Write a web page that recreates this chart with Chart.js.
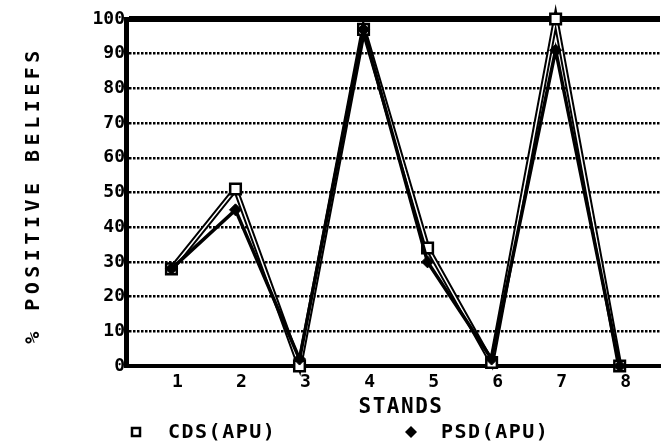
<!DOCTYPE html>
<html>
<head>
<meta charset="utf-8">
<script src="https://cdn.jsdelivr.net/npm/chart.js@4"></script>
<style>
  html, body { margin: 0; padding: 0; background: #fff; }
  #wrap { width: 670px; height: 446px; }
</style>
</head>
<body>
<div id="wrap"><canvas id="standsChart" width="670" height="446"></canvas></div>
<script>
/* valores */
const stands = [1, 2, 3, 4, 5, 6, 7, 8];
const cdsApu = [28, 51, 0, 97, 34, 1, 100, 0];
const psdApu = [28, 45, 2, 97, 30, 2, 91, 0];
const yTicks = [0, 10, 20, 30, 40, 50, 60, 70, 80, 90, 100];
const seriesNames = ["CDS(APU)", "PSD(APU)"];
const xTitle = "STANDS";
const yTitle = "% POSITIVE BELIEFS";

const MONO = "'DejaVu Sans Mono', 'Liberation Mono', monospace";

function points(values) {
  return stands.map((s, i) => ({ x: s, y: values[i] }));
}

/* títulos e legenda desenhados à mão (fonte bitmap espaçada) */
const textOverlay = {
  id: "textOverlay",
  afterDraw(chart) {
    const ctx = chart.ctx;
    ctx.save();
    ctx.fillStyle = "#000";
    ctx.strokeStyle = "#000";
    ctx.textBaseline = "middle";

    // título do eixo y
    ctx.save();
    ctx.font = "bold 20px " + MONO;
    ctx.letterSpacing = "4.5px";
    ctx.textAlign = "center";
    ctx.translate(34, 195);
    ctx.rotate(-Math.PI / 2);
    ctx.fillText(yTitle, 0, 0);
    ctx.restore();

    // título do eixo x
    ctx.font = "bold 21px " + MONO;
    ctx.letterSpacing = "1.5px";
    ctx.textAlign = "center";
    ctx.fillText(xTitle, 401, 408);

    // legenda
    ctx.font = "bold 20px " + MONO;
    ctx.letterSpacing = "1.5px";
    ctx.textAlign = "left";
    ctx.lineWidth = 2.5;
    ctx.strokeRect(132, 428, 8, 8);
    ctx.fillText(seriesNames[0], 168, 433);

    ctx.beginPath();
    ctx.moveTo(411, 426);
    ctx.lineTo(417, 432);
    ctx.lineTo(411, 438);
    ctx.lineTo(405, 432);
    ctx.closePath();
    ctx.fill();
    ctx.fillText(seriesNames[1], 441, 433);
    ctx.restore();
  },
};

const ctx = document.getElementById("standsChart").getContext("2d");
new Chart(ctx, {
  type: "line",
  data: {
    datasets: [
      {
        label: seriesNames[0],
        data: points(cdsApu),
        borderColor: "#000",
        borderWidth: 5.5,
        pointRadius: 0,
        clip: false,
        order: 3,
      },
      {
        label: seriesNames[0] + " inner",
        data: points(cdsApu),
        borderColor: "#fff",
        borderWidth: 1.5,
        pointStyle: "rect",
        pointRadius: 7.5,
        pointBackgroundColor: "#fff",
        pointBorderColor: "#000",
        pointBorderWidth: 2.5,
        clip: false,
        order: 2,
      },
      {
        label: seriesNames[1],
        data: points(psdApu),
        borderColor: "#000",
        borderWidth: 3.5,
        pointStyle: "rectRot",
        pointRadius: 6,
        pointBackgroundColor: "#000",
        pointBorderColor: "#000",
        pointBorderWidth: 1,
        clip: false,
        order: 1,
      },
    ],
  },
  options: {
    responsive: false,
    animation: false,
    layout: { padding: { top: 19, right: 0, left: 0, bottom: 0 } },
    plugins: {
      legend: { display: false },
      title: { display: false },
      tooltip: { enabled: false },
    },
    scales: {
      x: {
        type: "linear",
        min: 0.29,
        max: 8.63,
        afterBuildTicks: (axis) => {
          axis.ticks = stands.map((v) => ({ value: v }));
        },
        afterFit: (axis) => {
          axis.height = 80;
        },
        grid: { display: false, drawTicks: false },
        border: { display: true, color: "#000", width: 4 },
        ticks: {
          color: "#000",
          padding: 6,
          labelOffset: 6,
          maxRotation: 0,
          font: { family: MONO, size: 18, weight: "bold" },
        },
      },
      y: {
        min: 0,
        max: 100,
        afterBuildTicks: (axis) => {
          axis.ticks = yTicks.map((v) => ({ value: v }));
        },
        afterFit: (axis) => {
          axis.width = 126;
        },
        grid: {
          drawTicks: false,
          color: (c) => (c.tick && c.tick.value === 0 ? "rgba(0,0,0,0)" : "#000"),
          lineWidth: (c) => (c.tick && c.tick.value === 100 ? 6 : 2.5),
        },
        border: {
          display: true,
          color: "#000",
          width: 5,
          dash: (c) => (c.tick && c.tick.value === 100 ? [] : [2.5, 1.5]),
        },
        ticks: {
          color: "#000",
          padding: 1,
          font: { family: MONO, size: 18, weight: "bold" },
        },
      },
    },
  },
  plugins: [textOverlay],
});
</script>
</body>
</html>
